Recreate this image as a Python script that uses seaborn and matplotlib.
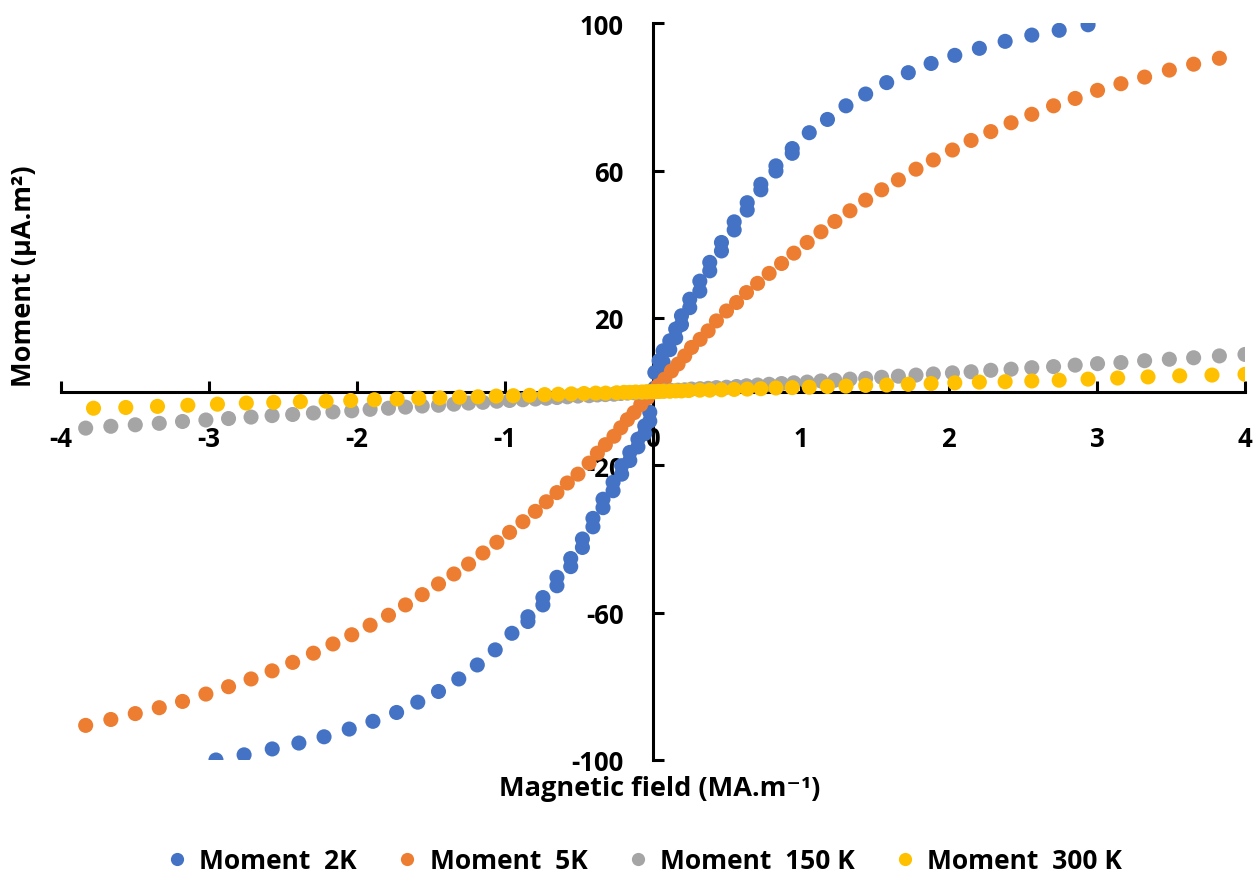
import matplotlib
matplotlib.use("Agg")
import matplotlib.pyplot as plt
from matplotlib.lines import Line2D
import pandas as pd
import seaborn as sns

sns.set_theme(style="white")
plt.rcParams["font.family"] = ["Open Sans", "DejaVu Sans"]
plt.rcParams["font.weight"] = "bold"
plt.rcParams["text.color"] = "black"

# ---- magnetisation loops: field in MA/m, moment in uA.m^2 ----
series_names = ["Moment  2K", "Moment  5K", "Moment  150 K", "Moment  300 K"]
series_colors = ["#4472C4", "#ED7D31", "#A5A5A5", "#FFC000"]

# 2 K: descending sweep
field_2k_down = [2.94, 2.745, 2.56, 2.38, 2.206, 2.04, 1.88, 1.726, 1.58, 1.438,
                 1.305, 1.18, 1.057, 0.942, 0.832, 0.73, 0.638, 0.55, 0.464, 0.385,
                 0.318, 0.25, 0.194, 0.155, 0.115, 0.07, 0.043, 0.014, -0.02, -0.054,
                 -0.1, -0.155, -0.21, -0.268, -0.336, -0.404, -0.475, -0.554, -0.647,
                 -0.742, -0.843, -0.951, -1.064, -1.185, -1.31, -1.447, -1.587, -1.73,
                 -1.89, -2.05, -2.22, -2.39, -2.57, -2.76, -2.95]
moment_2k_down = [99.6, 98.1, 96.8, 95.1, 93.2, 91.3, 89.1, 86.6, 83.9, 80.8,
                  77.6, 73.9, 70.3, 66.0, 61.3, 56.3, 51.3, 46.1, 40.5, 35.1,
                  30.0, 25.1, 20.6, 17.0, 13.8, 11.1, 8.4, 5.2, -5.6, -9.3,
                  -12.9, -16.5, -20.1, -24.6, -29.2, -34.4, -40.0, -45.3, -50.4,
                  -55.9, -61.1, -65.6, -70.1, -74.2, -78.0, -81.4, -84.3, -87.1,
                  -89.5, -91.6, -93.7, -95.4, -97.0, -98.6, -100.0]
# 2 K: ascending sweep through the low-field region
field_2k_up = [-0.843, -0.742, -0.647, -0.554, -0.475, -0.404, -0.336, -0.268, -0.21,
               -0.155, -0.1, -0.054, -0.02, 0.014, 0.043, 0.07, 0.115, 0.155, 0.194,
               0.25, 0.318, 0.385, 0.464, 0.55, 0.638, 0.73, 0.832, 0.942]
moment_2k_up = [-62.4, -57.9, -52.7, -47.5, -42.3, -36.7, -31.5, -26.9, -22.4,
                -18.7, -15.0, -11.4, -8.0, 1.0, 5.0, 8.0, 11.4, 14.6, 18.2,
                22.8, 27.3, 32.8, 38.2, 43.9, 49.3, 54.8, 59.9, 64.7]

# 5 K
field_5k = [-3.83, -3.66, -3.495, -3.333, -3.176, -3.018, -2.865, -2.713, -2.571, -2.432,
            -2.292, -2.16, -2.033, -1.909, -1.785, -1.67, -1.557, -1.447, -1.343, -1.244,
            -1.147, -1.053, -0.967, -0.877, -0.793, -0.719, -0.647, -0.577, -0.505, -0.43,
            -0.374, -0.32, -0.262, -0.216, -0.171, -0.126, -0.081, -0.036, 0.0,
            0.036, 0.081, 0.126, 0.171, 0.216, 0.262, 0.32, 0.374, 0.43, 0.498,
            0.566, 0.633, 0.708, 0.786, 0.87, 0.953, 1.043, 1.136, 1.23, 1.332,
            1.438, 1.546, 1.659, 1.778, 1.895, 2.024, 2.15, 2.283, 2.42, 2.56,
            2.707, 2.853, 3.004, 3.162, 3.322, 3.489, 3.653, 3.827]
moment_5k = [-90.6, -89.0, -87.4, -85.8, -84.1, -82.1, -80.1, -78.0, -75.8, -73.5,
             -71.0, -68.5, -66.0, -63.4, -60.7, -57.9, -55.1, -52.2, -49.5, -46.8,
             -43.8, -40.9, -38.2, -35.3, -32.5, -29.9, -27.4, -24.8, -22.4, -19.4,
             -16.7, -14.4, -12.1, -9.8, -7.6, -5.7, -3.5, -1.7, 0.0,
             1.6, 3.4, 5.6, 7.5, 9.7, 12.0, 14.2, 16.5, 19.2, 21.9,
             24.2, 26.9, 29.4, 32.1, 34.8, 37.6, 40.5, 43.4, 46.2, 49.1,
             52.0, 54.8, 57.5, 60.4, 62.9, 65.6, 68.2, 70.6, 73.0, 75.3,
             77.6, 79.6, 81.8, 83.6, 85.4, 87.3, 88.9, 90.5]

# 150 K
field_150k = [-3.83, -3.66, -3.495, -3.333, -3.176, -3.018, -2.865, -2.713, -2.571, -2.432,
              -2.292, -2.16, -2.033, -1.909, -1.785, -1.67, -1.557, -1.447, -1.343, -1.244,
              -1.147, -1.053, -0.967, -0.877, -0.793, -0.719, -0.647, -0.577, -0.505, -0.43,
              -0.374, -0.32, -0.262, -0.216, -0.171, -0.126, -0.081, -0.036, 0.0,
              0.036, 0.081, 0.126, 0.171, 0.216, 0.262, 0.32, 0.374, 0.43, 0.498,
              0.566, 0.633, 0.708, 0.786, 0.87, 0.953, 1.043, 1.136, 1.23, 1.332,
              1.438, 1.546, 1.659, 1.778, 1.895, 2.024, 2.15, 2.283, 2.42, 2.56,
              2.707, 2.853, 3.004, 3.162, 3.322, 3.489, 3.653, 3.827, 4.0]
moment_150k = [-9.9, -9.4, -9.0, -8.6, -8.1, -7.7, -7.3, -6.9, -6.5, -6.2,
               -5.8, -5.5, -5.2, -4.8, -4.5, -4.2, -3.9, -3.7, -3.4, -3.1,
               -2.9, -2.6, -2.4, -2.2, -2.0, -1.8, -1.6, -1.4, -1.2, -1.1,
               -0.9, -0.8, -0.7, -0.5, -0.4, -0.3, -0.2, -0.1, 0.0,
               0.1, 0.2, 0.3, 0.4, 0.5, 0.7, 0.8, 0.9, 1.1, 1.2,
               1.4, 1.6, 1.8, 2.0, 2.2, 2.4, 2.6, 2.9, 3.1, 3.4,
               3.6, 3.9, 4.2, 4.5, 4.8, 5.1, 5.4, 5.8, 6.1, 6.5,
               6.8, 7.2, 7.6, 7.9, 8.4, 8.8, 9.2, 9.7, 10.1]

# 300 K
field_300k = [-3.777, -3.559, -3.345, -3.14, -2.94, -2.745, -2.56, -2.38, -2.206, -2.04,
              -1.88, -1.726, -1.58, -1.438, -1.305, -1.18, -1.057, -0.942, -0.832, -0.73,
              -0.638, -0.55, -0.464, -0.385, -0.318, -0.243, -0.194, -0.155, -0.115, -0.07,
              -0.043, -0.014, 0.014, 0.043, 0.07, 0.115, 0.155, 0.194, 0.243, 0.318,
              0.385, 0.464, 0.55, 0.638, 0.73, 0.832, 0.942, 1.057, 1.18, 1.305,
              1.438, 1.58, 1.726, 1.88, 2.04, 2.206, 2.38, 2.56, 2.745, 2.94,
              3.14, 3.345, 3.559, 3.777, 4.0]
moment_300k = [-4.5, -4.3, -4.0, -3.7, -3.4, -3.1, -2.9, -2.7, -2.6, -2.4,
               -2.2, -2.0, -1.8, -1.7, -1.5, -1.4, -1.2, -1.1, -1.0, -0.8,
               -0.7, -0.6, -0.5, -0.4, -0.4, -0.3, -0.2, -0.2, -0.1, -0.1,
               -0.05, 0.0, 0.0, 0.05, 0.1, 0.1, 0.2, 0.2, 0.3, 0.4,
               0.4, 0.5, 0.6, 0.7, 0.8, 1.0, 1.1, 1.2, 1.4, 1.5,
               1.7, 1.8, 2.0, 2.2, 2.4, 2.6, 2.7, 2.9, 3.1, 3.4,
               3.7, 4.0, 4.3, 4.5, 4.7]

x_ticks = [-4, -3, -2, -1, 0, 1, 2, 3, 4]
y_ticks = [-100, -60, -20, 20, 60, 100]

frames = [
    pd.DataFrame({"field": field_2k_down + field_2k_up,
                  "moment": moment_2k_down + moment_2k_up, "series": series_names[0]}),
    pd.DataFrame({"field": field_5k, "moment": moment_5k, "series": series_names[1]}),
    pd.DataFrame({"field": field_150k, "moment": moment_150k, "series": series_names[2]}),
    pd.DataFrame({"field": field_300k, "moment": moment_300k, "series": series_names[3]}),
]
df = pd.concat(frames, ignore_index=True)
palette = dict(zip(series_names, series_colors))

W, H = 1257, 879
fig = plt.figure(figsize=(W / 100, H / 100), dpi=100)
ax_l, ax_r, ax_t, ax_b = 60.5, 1245.0, 24.3, 761.0
ax = fig.add_axes([ax_l / W, 1 - ax_b / H, (ax_r - ax_l) / W, (ax_b - ax_t) / H])

sns.scatterplot(data=df, x="field", y="moment", hue="series", palette=palette,
                s=118, linewidth=0, alpha=1, legend=False, ax=ax, zorder=3)

ax.set_xlim(-4, 4)
ax.set_ylim(-100, 100)
ax.set_xticks(x_ticks)
ax.set_yticks(y_ticks)
ax.set_xticklabels([str(v) for v in x_ticks])
ax.set_yticklabels([str(v) for v in y_ticks])
ax.set_xlabel("")
ax.set_ylabel("")

for side in ("top", "right"):
    ax.spines[side].set_visible(False)
ax.spines["left"].set_position(("data", 0))
ax.spines["bottom"].set_position(("data", 0))
for side in ("left", "bottom"):
    ax.spines[side].set_linewidth(2.2)
    ax.spines[side].set_color("black")
    ax.spines[side].set_zorder(2)

ax.tick_params(axis="x", bottom=True, direction="in", length=8, width=2.2, pad=24,
               labelsize=18.5, colors="black")
ax.tick_params(axis="y", left=True, direction="in", length=8, width=2.2, pad=21,
               labelsize=18.5, colors="black")
for lab in ax.get_xticklabels() + ax.get_yticklabels():
    lab.set_fontweight("bold")

fig.text(660 / W, 1 - 789 / H, "Magnetic field (MA.m⁻¹)", ha="center", va="center",
         fontsize=19.5, fontweight="bold")
fig.text(24 / W, 1 - 276 / H, "Moment (µA.m²)", ha="center", va="center",
         rotation=90, fontsize=19.5, fontweight="bold")

handles = [Line2D([], [], marker="o", linestyle="", markersize=9.5,
                  markerfacecolor=c, markeredgewidth=0) for c in series_colors]
fig.legend(handles, series_names, loc="center", bbox_to_anchor=(643 / W, 1 - 862 / H),
           ncol=4, frameon=False, handletextpad=0.35, columnspacing=1.4,
           handlelength=1.0, prop={"weight": "bold", "size": 19})

fig.savefig("out.png", dpi=100)
